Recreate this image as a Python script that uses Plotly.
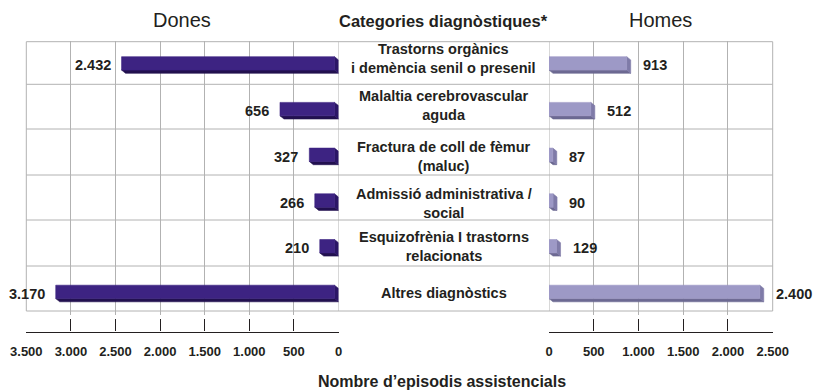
import plotly.graph_objects as go

# ---- data -------------------------------------------------------------
categories = [
    "Trastorns orgànics<br>i demència senil o presenil",
    "Malaltia cerebrovascular<br>aguda",
    "Fractura de coll de fèmur<br>(maluc)",
    "Admissió administrativa /<br>social",
    "Esquizofrènia I trastorns<br>relacionats",
    "Altres diagnòstics",
]
dones = [2432, 656, 327, 266, 210, 3170]
homes = [913, 512, 87, 90, 129, 2400]
dones_ticks = [3500, 3000, 2500, 2000, 1500, 1000, 500, 0]
homes_ticks = [0, 500, 1000, 1500, 2000, 2500]

# ---- layout geometry (pixels) ----------------------------------------
W, H = 815, 392
FONT = "Liberation Sans, Arial, Helvetica, sans-serif"
INK = "#231f20"
GRID = "#b2b2b2"

left_px = (26.3, 338.5)      # Dones panel
right_px = (549.0, 772.7)    # Homes panel
mid_x = (left_px[1] + right_px[0]) / 2
bar_top_px, bar_step_px = 63.4, 45.7   # centre of first bar, spacing
row_edges_px = [41.7, 84.3, 129.0, 175.0, 220.0, 266.0, 311.0]
axis_line_px = 331.5

# vertical offset (px, downward) of each category label block from its bar centre
label_offsets = [-4.5, -3.3, 1.2, 2.5, 0.0, 0.8]

n = len(categories)
y_top = bar_top_px - bar_step_px / 2
y_bot = y_top + n * bar_step_px


def px(v):
    return v / W


def py(v):
    return (H - v) / H


dones_max = dones_ticks[0]
homes_max = homes_ticks[-1]
ppu_l = (left_px[1] - left_px[0]) / dones_max
ppu_r = (right_px[1] - right_px[0]) / homes_max
depth_px, drop_px, half_px = 4.0, 3.2, 6.7
dxl = depth_px / ppu_l
dxr = depth_px / ppu_r
dy = drop_px / bar_step_px
hh = half_px / bar_step_px

DONES_COL = ("#3d2382", "#2b1666", "#22104f")   # front, side, bottom
HOMES_COL = ("#9d99c6", "#7f7ba8", "#6c6992")


def boxes(values, left_side):
    front_x, front_y, side_x, side_y, bot_x, bot_y = [], [], [], [], [], []
    for i, v in enumerate(values):
        top, bot = i - hh, i + hh
        if left_side:
            # reversed axis: 0 on the right, depth extrudes toward 0
            fl, fr, d = v, dxl, -dxl
            end = 0
        else:
            fl, fr, d = 0, v - dxr, dxr
            end = v
        front_x += [fl, fr, fr, fl, fl, None]
        front_y += [top, top, bot, bot, top, None]
        side_x += [fr, end, end, fr, fr, None]
        side_y += [top, top + dy, bot + dy, bot, top, None]
        bot_x += [fl, fr, end, fl + d, fl, None]
        bot_y += [bot, bot, bot + dy, bot + dy, bot, None]
    return (front_x, front_y), (side_x, side_y), (bot_x, bot_y)


fig = go.Figure()

for values, xa, cols, left in [(dones, "x", DONES_COL, True), (homes, "x2", HOMES_COL, False)]:
    front, side, bottom = boxes(values, left)
    for (xs, ys), col in [(bottom, cols[2]), (side, cols[1]), (front, cols[0])]:
        fig.add_trace(go.Scatter(
            x=xs, y=ys, xaxis=xa, yaxis="y", mode="lines", fill="toself",
            fillcolor=col, line=dict(color=col, width=0.6),
            hoverinfo="skip", showlegend=False,
        ))

# placeholder traces so the detached tick axes are built
fig.add_trace(go.Scatter(x=[None], y=[None], xaxis="x3", yaxis="y", showlegend=False))
fig.add_trace(go.Scatter(x=[None], y=[None], xaxis="x4", yaxis="y", showlegend=False))


def fmt(v):
    return f"{v:,}".replace(",", ".")


annotations = []
for i, v in enumerate(dones):
    annotations.append(dict(
        x=v, y=i, xref="x", yref="y", text=fmt(v), showarrow=False,
        xanchor="right", yanchor="middle", xshift=-9, yshift=-2,
        font=dict(family=FONT, size=14.5, color=INK, weight="bold"),
    ))
for i, v in enumerate(homes):
    annotations.append(dict(
        x=v, y=i, xref="x2", yref="y", text=fmt(v), showarrow=False,
        xanchor="left", yanchor="middle", xshift=10, yshift=-2,
        font=dict(family=FONT, size=14.5, color=INK, weight="bold"),
    ))
for i, label in enumerate(categories):
    annotations.append(dict(
        x=px(mid_x), y=i, xref="paper", yref="y", text=label, showarrow=False,
        xanchor="center", yanchor="middle", yshift=-label_offsets[i],
        font=dict(family=FONT, size=14.5, color=INK, weight="bold"),
    ))

titles = [
    ("Dones", (left_px[0] + left_px[1]) / 2, 20, 20, "normal"),
    ("Homes", (right_px[0] + right_px[1]) / 2, 20, 20, "normal"),
    ("Categories diagnòstiques*", mid_x, 21.5, 16.5, "bold"),
    ("Nombre d’episodis assistencials", 442, 381, 16, "bold"),
]
for text, x, y, size, weight in titles:
    annotations.append(dict(
        x=px(x), y=py(y), xref="paper", yref="paper", text=text, showarrow=False,
        xanchor="center", yanchor="middle",
        font=dict(family=FONT, size=size, color=INK, weight=weight),
    ))

shapes = []
# outer frame
shapes.append(dict(type="rect", xref="paper", yref="paper",
                   x0=px(left_px[0]), x1=px(right_px[1]),
                   y0=py(row_edges_px[-1]), y1=py(row_edges_px[0]),
                   line=dict(color=GRID, width=1), layer="below"))
# row separators across the full width
for e in row_edges_px[1:-1]:
    shapes.append(dict(type="line", xref="paper", yref="paper",
                       x0=px(left_px[0]), x1=px(right_px[1]), y0=py(e), y1=py(e),
                       line=dict(color=GRID, width=1), layer="below"))
# panel edges at zero
for xr in ("x", "x2"):
    shapes.append(dict(type="line", xref=xr, yref="paper", x0=0, x1=0,
                       y0=py(row_edges_px[-1]), y1=py(row_edges_px[0]),
                       line=dict(color=GRID, width=1), layer="below"))

dom_l = [px(left_px[0]), px(left_px[1])]
dom_r = [px(right_px[0]), px(right_px[1])]
grid_axis = dict(showgrid=True, gridcolor=GRID, gridwidth=1, showticklabels=False,
                 ticks="", zeroline=False, showline=False, fixedrange=True,
                 automargin=False)
tick_axis = dict(anchor="free", position=py(axis_line_px), showgrid=False, zeroline=False,
                 showline=True, linecolor=INK, linewidth=1.3, ticks="inside", ticklen=12,
                 tickwidth=1.3, tickcolor=INK, ticklabelstandoff=8, fixedrange=True,
                 automargin=False,
                 tickfont=dict(family=FONT, size=13, color=INK, weight="bold"))

fig.update_layout(
    width=W, height=H, margin=dict(l=0, r=0, t=0, b=0, autoexpand=False),
    paper_bgcolor="white", plot_bgcolor="rgba(0,0,0,0)",
    showlegend=False,
    xaxis=dict(domain=dom_l, range=[dones_max, 0], tickvals=dones_ticks, anchor="y", **grid_axis),
    xaxis2=dict(domain=dom_r, range=[0, homes_max], tickvals=homes_ticks, anchor="y", **grid_axis),
    xaxis3=dict(domain=dom_l, range=[dones_max, 0], tickvals=dones_ticks,
                ticktext=[fmt(t) for t in dones_ticks], **tick_axis),
    xaxis4=dict(domain=dom_r, range=[0, homes_max], tickvals=homes_ticks,
                ticktext=[fmt(t) for t in homes_ticks], **tick_axis),
    yaxis=dict(domain=[py(y_bot), py(y_top)], range=[n - 0.5, -0.5], anchor="x",
               showgrid=False, zeroline=False, showticklabels=False, ticks="",
               fixedrange=True, automargin=False),
    annotations=annotations,
    shapes=shapes,
)

fig.write_html("out.html")
